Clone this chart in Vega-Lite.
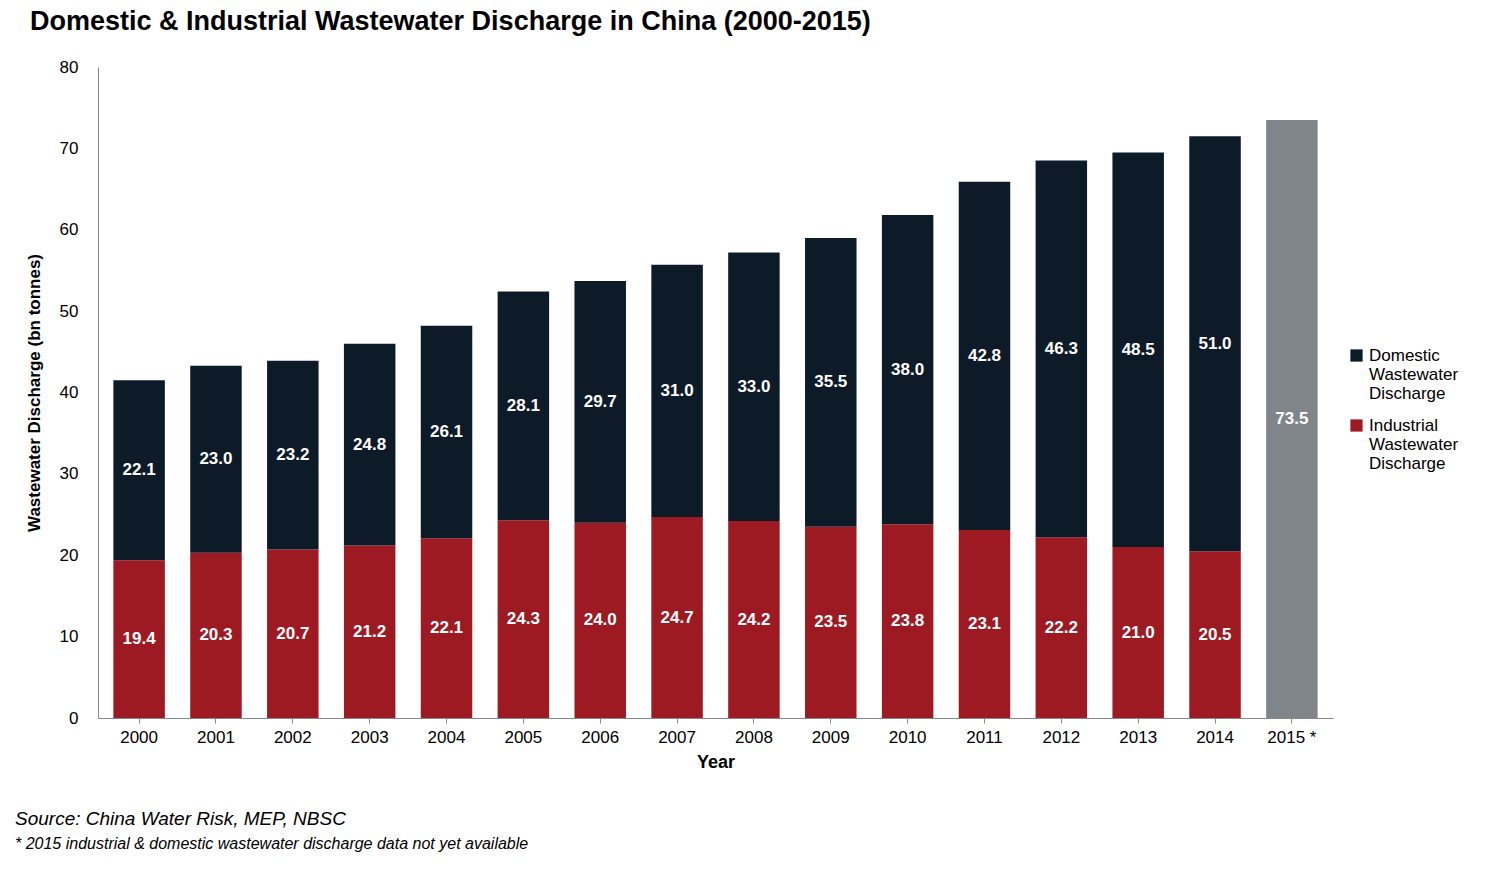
{
  "$schema": "https://vega.github.io/schema/vega-lite/v6.json",
  "padding": {"left": 15, "top": 8, "right": 10, "bottom": 5},
  "title": {"text": "Domestic & Industrial Wastewater Discharge in China (2000-2015)", "anchor": "start", "fontSize": 27, "font": "Liberation Sans", "fontWeight": "bold", "color": "#000", "dx": 15, "offset": 22},
  "spacing": 35,
  "vconcat": [
    {
      "width": 1235,
      "height": 651,
      "data": {"values": [
        {"year": "2000", "type": "Industrial", "value": 19.4}, {"year": "2000", "type": "Domestic", "value": 22.1},
        {"year": "2001", "type": "Industrial", "value": 20.3}, {"year": "2001", "type": "Domestic", "value": 23.0},
        {"year": "2002", "type": "Industrial", "value": 20.7}, {"year": "2002", "type": "Domestic", "value": 23.2},
        {"year": "2003", "type": "Industrial", "value": 21.2}, {"year": "2003", "type": "Domestic", "value": 24.8},
        {"year": "2004", "type": "Industrial", "value": 22.1}, {"year": "2004", "type": "Domestic", "value": 26.1},
        {"year": "2005", "type": "Industrial", "value": 24.3}, {"year": "2005", "type": "Domestic", "value": 28.1},
        {"year": "2006", "type": "Industrial", "value": 24.0}, {"year": "2006", "type": "Domestic", "value": 29.7},
        {"year": "2007", "type": "Industrial", "value": 24.7}, {"year": "2007", "type": "Domestic", "value": 31.0},
        {"year": "2008", "type": "Industrial", "value": 24.2}, {"year": "2008", "type": "Domestic", "value": 33.0},
        {"year": "2009", "type": "Industrial", "value": 23.5}, {"year": "2009", "type": "Domestic", "value": 35.5},
        {"year": "2010", "type": "Industrial", "value": 23.8}, {"year": "2010", "type": "Domestic", "value": 38.0},
        {"year": "2011", "type": "Industrial", "value": 23.1}, {"year": "2011", "type": "Domestic", "value": 42.8},
        {"year": "2012", "type": "Industrial", "value": 22.2}, {"year": "2012", "type": "Domestic", "value": 46.3},
        {"year": "2013", "type": "Industrial", "value": 21.0}, {"year": "2013", "type": "Domestic", "value": 48.5},
        {"year": "2014", "type": "Industrial", "value": 20.5}, {"year": "2014", "type": "Domestic", "value": 51.0},
        {"year": "2015", "type": "Total", "value": 73.5}
      ]},
      "transform": [
        {"calculate": "datum.type == 'Industrial' ? 0 : 1", "as": "order"},
        {"stack": "value", "groupby": ["year"], "sort": [{"field": "order"}], "as": ["v0", "v1"]},
        {"calculate": "(datum.v0 + datum.v1) / 2", "as": "mid"}
      ],
      "encoding": {
        "x": {"field": "year", "type": "ordinal", "title": "Year",
          "scale": {"paddingInner": 0.33, "paddingOuter": 0.2},
          "axis": {"labelAngle": 0, "labelFontSize": 17, "labelFont": "Liberation Sans", "labelColor": "#000", "titleFontSize": 18, "titleFont": "Liberation Sans", "titleColor": "#000", "titlePadding": 8, "domainColor": "#888", "tickColor": "#888", "tickSize": 5, "labelPadding": 6,
            "labelExpr": "datum.label == '2015' ? '2015 *' : datum.label"}}
      },
      "layer": [
        {
          "mark": {"type": "bar"},
          "encoding": {
            "y": {"field": "v0", "type": "quantitative", "title": "Wastewater Discharge (bn tonnes)",
              "scale": {"domain": [0, 80]},
              "axis": {"values": [0, 10, 20, 30, 40, 50, 60, 70, 80], "grid": false, "ticks": false, "labelFontSize": 17, "labelFont": "Liberation Sans", "labelColor": "#000", "labelPadding": 20, "titleFontSize": 17, "titleFont": "Liberation Sans", "titleColor": "#000", "titlePadding": 16, "domainColor": "#888"}},
            "y2": {"field": "v1"},
            "color": {"field": "type", "type": "nominal", "title": null,
              "scale": {"domain": ["Domestic", "Industrial", "Total"], "range": ["#0D1B28", "#9E1A22", "#7F8589"]},
              "legend": {"values": ["Domestic", "Industrial"], "symbolType": "square", "symbolSize": 150, "labelFontSize": 17, "labelFont": "Liberation Sans", "labelColor": "#000", "labelLimit": 200, "rowPadding": 14, "offset": 10,
                "labelExpr": "[datum.label, 'Wastewater', 'Discharge']", "orient": "none", "legendX": 1250, "legendY": 280}}
          }
        },
        {
          "mark": {"type": "text", "color": "white", "fontWeight": "bold", "fontSize": 17, "font": "Liberation Sans"},
          "encoding": {
            "y": {"field": "mid", "type": "quantitative"},
            "text": {"field": "value", "type": "quantitative", "format": ".1f"}
          }
        }
      ]
    },
    {
      "width": 1235,
      "height": 50,
      "data": {"values": [
        {"line": 1, "text": "Source: China Water Risk, MEP, NBSC", "size": 19},
        {"line": 2, "text": "* 2015 industrial & domestic wastewater discharge data not yet available", "size": 16}
      ]},
      "mark": {"type": "text", "align": "left", "fontStyle": "italic", "font": "Liberation Sans", "color": "#000", "dx": -83},
      "encoding": {
        "x": {"value": 0},
        "y": {"field": "line", "type": "ordinal", "axis": null, "scale": {"paddingOuter": 0}},
        "text": {"field": "text"},
        "size": {"field": "size", "type": "quantitative", "scale": null, "legend": null}
      }
    }
  ],
  "config": {"view": {"stroke": null}}
}
